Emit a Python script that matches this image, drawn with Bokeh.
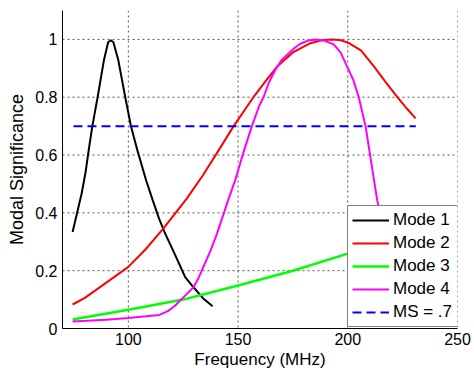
from bokeh.plotting import figure
from bokeh.models import Range1d, FixedTicker, CustomJSTickFormatter, Legend, LegendItem, Span
from bokeh.embed import file_html
from bokeh.resources import INLINE

# ---- data ----
mode1_f = [74.6, 76.5, 78.7, 80.5, 82, 83.6, 86, 88.9, 90.8, 92, 93.2, 95.4, 98.6, 101.2,
           104.1, 108.1, 111.1, 114, 116.8, 121, 125.9, 130, 134, 138.4]
mode1_v = [0.334, 0.395, 0.466, 0.54, 0.62, 0.70, 0.80, 0.929, 0.99, 0.997, 0.99, 0.929, 0.80, 0.70,
           0.617, 0.513, 0.444, 0.38, 0.328, 0.26, 0.178, 0.14, 0.105, 0.077]

mode2_f = [74.6, 80, 87.1, 93, 100, 108, 116, 121, 126.7, 134, 141.2, 148, 157, 163, 167.8,
           175, 183, 188, 193, 197, 200.5, 206, 212, 217, 222.6, 227, 230.9]
mode2_v = [0.083, 0.105, 0.143, 0.175, 0.213, 0.275, 0.346, 0.395, 0.45, 0.53, 0.617, 0.70, 0.80, 0.86, 0.906,
           0.955, 0.987, 0.997, 1.0, 0.997, 0.987, 0.962, 0.906, 0.855, 0.80, 0.76, 0.727]

mode3_f = [74.6, 100, 125, 150, 175, 200, 215, 230]
mode3_v = [0.031, 0.065, 0.10, 0.149, 0.20, 0.259, 0.295, 0.335]

mode4_f = [74.6, 90, 100, 108, 114.2, 118, 121, 123.6, 126.5, 129.7, 132, 134.2, 137.5, 140.4,
           145.5, 148.7, 152.5, 156.3, 159.8, 161.6, 164, 167, 170, 173.1, 176, 178.4, 181.5, 185.3,
           189.5, 193.6, 196.7, 199.7, 202.5, 205, 208.1, 213.4, 214.2, 218]
mode4_v = [0.024, 0.03, 0.036, 0.042, 0.047, 0.06, 0.077, 0.097, 0.118, 0.143, 0.175, 0.213, 0.27, 0.328,
           0.444, 0.513, 0.61, 0.70, 0.773, 0.80, 0.85, 0.895, 0.93, 0.952, 0.972, 0.985, 0.995, 1.0,
           0.995, 0.983, 0.955, 0.906, 0.86, 0.80, 0.70, 0.444, 0.416, 0.25]

ms_f = [75, 231]
ms_v = [0.7, 0.7]

x_ticks = [100, 150, 200, 250]
y_ticks = [0, 0.2, 0.4, 0.6, 0.8, 1]

labels = ["Mode 1", "Mode 2", "Mode 3", "Mode 4", "MS = .7"]
colors = ["#000000", "#ff0000", "#00ff00", "#ff00ff", "#0000ff"]

FONT = "Liberation Sans"

p = figure(width=474, height=373, output_backend="svg", toolbar_location=None,
           x_range=Range1d(70, 250), y_range=Range1d(0, 1.1),
           min_border_left=62, min_border_right=17, min_border_top=10, min_border_bottom=45)
p.outline_line_color = None
p.background_fill_color = "white"
p.border_fill_color = "white"
p.xgrid.visible = False
p.ygrid.visible = False

# dotted grid drawn as spans at the tick positions
for t in x_ticks:
    p.add_layout(Span(location=t, dimension="height", line_color="#555555",
                      line_width=1, line_dash="2 3", level="underlay"))
for t in y_ticks[1:]:
    p.add_layout(Span(location=t, dimension="width", line_color="#555555",
                      line_width=1, line_dash="2 3", level="underlay"))

r1 = p.line(mode1_f, mode1_v, line_color=colors[0], line_width=2)
r2 = p.line(mode2_f, mode2_v, line_color=colors[1], line_width=2)
r3 = p.line(mode3_f, mode3_v, line_color=colors[2], line_width=2.5)
r4 = p.line(mode4_f, mode4_v, line_color=colors[3], line_width=2)
r5 = p.line(ms_f, ms_v, line_color=colors[4], line_width=2, line_dash="9 5")

p.xaxis.ticker = FixedTicker(ticks=x_ticks)
p.yaxis.ticker = FixedTicker(ticks=y_ticks)
p.yaxis.formatter = CustomJSTickFormatter(code="return tick.toString();")
p.xaxis.formatter = CustomJSTickFormatter(code="return tick.toString();")

for ax in (p.xaxis, p.yaxis):
    ax.major_tick_in = 0
    ax.major_tick_out = 0
    ax.minor_tick_in = 0
    ax.minor_tick_out = 0
    ax.axis_line_color = "#000000"
    ax.axis_line_width = 1
    ax.major_label_text_font = FONT
    ax.major_label_text_font_size = "16px"
    ax.major_label_text_color = "#000000"
    ax.axis_label_text_font = FONT
    ax.axis_label_text_font_style = "normal"
    ax.axis_label_text_color = "#000000"

p.xaxis.axis_label = "Frequency (MHz)"
p.yaxis.axis_label = "Modal Significance"
p.xaxis.axis_label_text_font_size = "17px"
p.yaxis.axis_label_text_font_size = "18px"
p.xaxis.major_label_standoff = 4
p.xaxis.axis_label_standoff = 2
p.yaxis.major_label_standoff = 5
p.yaxis.axis_label_standoff = 5

legend = Legend(items=[LegendItem(label=labels[i], renderers=[r]) for i, r in enumerate([r1, r2, r3, r4, r5])],
                location=(285, 1))
legend.label_text_font = FONT
legend.label_text_font_size = "17px"
legend.label_text_color = "#000000"
legend.border_line_color = "#000000"
legend.border_line_width = 1
legend.background_fill_color = "white"
legend.background_fill_alpha = 1
legend.padding = 4
legend.spacing = 3
legend.label_height = 20
legend.glyph_height = 20
legend.glyph_width = 37
legend.label_standoff = 4
legend.label_width = 62
legend.margin = 0
p.add_layout(legend, "center")

open("out.html", "w").write(file_html(p, INLINE))
